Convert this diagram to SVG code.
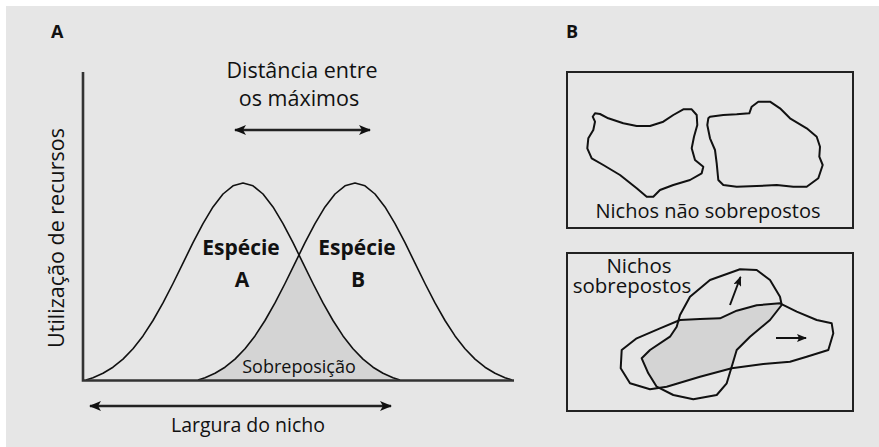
<svg xmlns="http://www.w3.org/2000/svg" width="879" height="447" viewBox="0 0 879 447">
<style>
text{font-family:"Open Sans","Liberation Sans",sans-serif;fill:#111}
.b{font-weight:bold}
.curve{fill:none;stroke:#111;stroke-width:1.6;stroke-linejoin:round}
.axis{fill:none;stroke:#333;stroke-width:2.6}
.blob{fill:none;stroke:#111;stroke-width:2;stroke-linejoin:round}
.box{fill:none;stroke:#222;stroke-width:2}
.arr{fill:none;stroke:#222;stroke-width:2.6}
.arrs{fill:none;stroke:#111;stroke-width:2}
</style>
<defs>
<marker id="ah" viewBox="0 0 12 10" refX="11" refY="5" markerWidth="12" markerHeight="10" markerUnits="userSpaceOnUse" orient="auto-start-reverse">
<path d="M0,0 L12,5 L0,10 L3,5 z" fill="#111"/>
</marker>
<marker id="ahs" viewBox="0 0 10 8" refX="9" refY="4" markerWidth="10" markerHeight="8" markerUnits="userSpaceOnUse" orient="auto">
<path d="M0,0 L10,4 L0,8 L2,4 z" fill="#111"/>
</marker>
<clipPath id="clipX">
<path d="M621.7,350 L636.7,338.3 L660,328.3 L680,320 L700,319 L720,318.3 L736.7,310.7 L756.7,305.3 L780,303.3 L796.7,311.7 L816.7,320 L831.7,323.3 L833.3,333.3 L828.3,350 L806.7,356.7 L790,361.7 L763.3,364 L731.7,368.3 L700,376.7 L666.7,386.7 L650,389.3 L630,383.3 L620.7,368.3 Z"/>
</clipPath>
</defs>
<rect x="0" y="0" width="879" height="447" fill="#ffffff"/>
<rect x="6" y="6" width="873" height="441" fill="#e6e6e6"/>

<g id="panelA">
<text id="labelA" class="b" x="51" y="38" font-size="18">A</text>
<g id="overlap">
<polygon fill="#d4d4d4" points="198,380 205,377.7 215,373.3 225,367.2 235,359.1 245,348.7 255,335.9 265,320.5 275,302.9 285,283.5 295,263.1 299,254.9 303,263.1 313,283.5 323,302.9 333,320.5 343,335.9 353,348.7 363,359.1 373,367.2 383,373.3 393,377.7 400,380"/>
<text x="299" y="373" font-size="18" text-anchor="middle">Sobreposição</text>
</g>
<g id="speciesA">
<polyline class="curve" points="86,380 93,377.7 103,373.3 113,367.2 123,359.1 133,348.7 143,335.9 153,320.5 163,302.9 173,283.5 183,263.1 193,242.7 203,223.6 213,206.9 223,194 233,185.8 243,183 253,185.8 263,194 273,206.9 283,223.6 293,242.7 303,263.1 313,283.5 323,302.9 333,320.5 343,335.9 353,348.7 363,359.1 373,367.2 383,373.3 393,377.7 400,380"/>
<text class="b" x="241" y="255" font-size="21" text-anchor="middle">Espécie</text>
<text class="b" x="242" y="287" font-size="21" text-anchor="middle">A</text>
</g>
<g id="speciesB">
<polyline class="curve" points="198,380 205,377.7 215,373.3 225,367.2 235,359.1 245,348.7 255,335.9 265,320.5 275,302.9 285,283.5 295,263.1 305,242.7 315,223.6 325,206.9 335,194 345,185.8 355,183 365,185.8 375,194 385,206.9 395,223.6 405,242.7 415,263.1 425,283.5 435,302.9 445,320.5 455,335.9 465,348.7 475,359.1 485,367.2 495,373.3 505,377.7 512,380"/>
<text class="b" x="357" y="255" font-size="21" text-anchor="middle">Espécie</text>
<text class="b" x="358" y="287" font-size="21" text-anchor="middle">B</text>
</g>
<g id="axes">
<polyline class="axis" points="83,72 83,380.5 514,380.5"/>
<text x="0" y="0" font-size="21.5" text-anchor="middle" transform="translate(64,238) rotate(-90)">Utilização de recursos</text>
</g>
<g id="distLabel">
<text font-size="21.5" text-anchor="middle"><tspan x="302" y="78">Distância entre</tspan><tspan x="299" y="106">os máximos</tspan></text>
</g>
<text id="widthLabel" x="248" y="432" font-size="19.5" text-anchor="middle">Largura do nicho</text>
</g>

<g id="connectors">
<line class="arr" x1="235" y1="130" x2="370" y2="130" marker-start="url(#ah)" marker-end="url(#ah)"/>
<line class="arr" x1="90" y1="406" x2="391" y2="406" marker-start="url(#ah)" marker-end="url(#ah)"/>
<line class="arrs" x1="730" y1="305" x2="740.5" y2="277" marker-end="url(#ahs)"/>
<line class="arrs" x1="776" y1="338" x2="806" y2="338" marker-end="url(#ahs)"/>
</g>

<g id="panelB">
<text id="labelB" class="b" x="566" y="38" font-size="18">B</text>
<g id="nonOverlapBox">
<rect class="box" x="567" y="72" width="286" height="156"/>
<polygon class="blob" points="595,113.3 600,114 608.3,118.3 623.3,123.3 636.7,126 650,126 663.3,121.7 673.3,115 683.3,109.3 691.7,109.3 696.7,115 697.3,125 694,136.7 691.7,148.3 695,160 703.3,166.7 701.7,173.3 690,180 673.3,185 660,190 653.3,196.7 646.7,196.7 636.7,188.3 620,175 603.3,165 591.7,158.3 587.3,148.3 588.3,138.3 593.3,130 595,121.7 592.7,116.7"/>
<polygon class="blob" points="710,116.7 723.3,115 736.7,114.3 749.3,113.3 751.7,106.7 758.3,101.7 770,101.7 780,108.3 790,118.3 806.7,128.3 816.7,136.7 820,146.7 819.3,156.7 822.7,165 818.3,178.3 806.7,186.7 793.3,186.7 776.7,185 756.7,186 736.7,186.7 723.3,185 718.3,180 716.7,163.3 715,150 710,138.3 707.3,125 708.3,118.3"/>
<text x="708" y="218" font-size="20" text-anchor="middle">Nichos não sobrepostos</text>
</g>
<g id="overlapBox">
<rect class="box" x="567" y="253" width="286" height="158"/>
<path clip-path="url(#clipX)" fill="#d4d4d4" d="M680,315 L690,296.7 L710,280 L740,269.3 L756.7,270 L770,280 L780,296.7 L781.7,305 L770,320 L750,336.7 L736.7,350 L731.7,366.7 L726.7,383.3 L716.7,395 L693.3,399.3 L673.3,395 L656.7,386.7 L648.3,373.3 L641.7,358.3 L650,350 L670,336.7 L676.7,326.7 Z"/>
<path class="blob" d="M621.7,350 L636.7,338.3 L660,328.3 L680,320 L700,319 L720,318.3 L736.7,310.7 L756.7,305.3 L780,303.3 L796.7,311.7 L816.7,320 L831.7,323.3 L833.3,333.3 L828.3,350 L806.7,356.7 L790,361.7 L763.3,364 L731.7,368.3 L700,376.7 L666.7,386.7 L650,389.3 L630,383.3 L620.7,368.3 Z"/>
<path class="blob" d="M680,315 L690,296.7 L710,280 L740,269.3 L756.7,270 L770,280 L780,296.7 L781.7,305 L770,320 L750,336.7 L736.7,350 L731.7,366.7 L726.7,383.3 L716.7,395 L693.3,399.3 L673.3,395 L656.7,386.7 L648.3,373.3 L641.7,358.3 L650,350 L670,336.7 L676.7,326.7 Z"/>
<text font-size="20.5" text-anchor="middle"><tspan x="639" y="273">Nichos</tspan><tspan x="632" y="293">sobrepostos</tspan></text>
</g>
</g>
</svg>
